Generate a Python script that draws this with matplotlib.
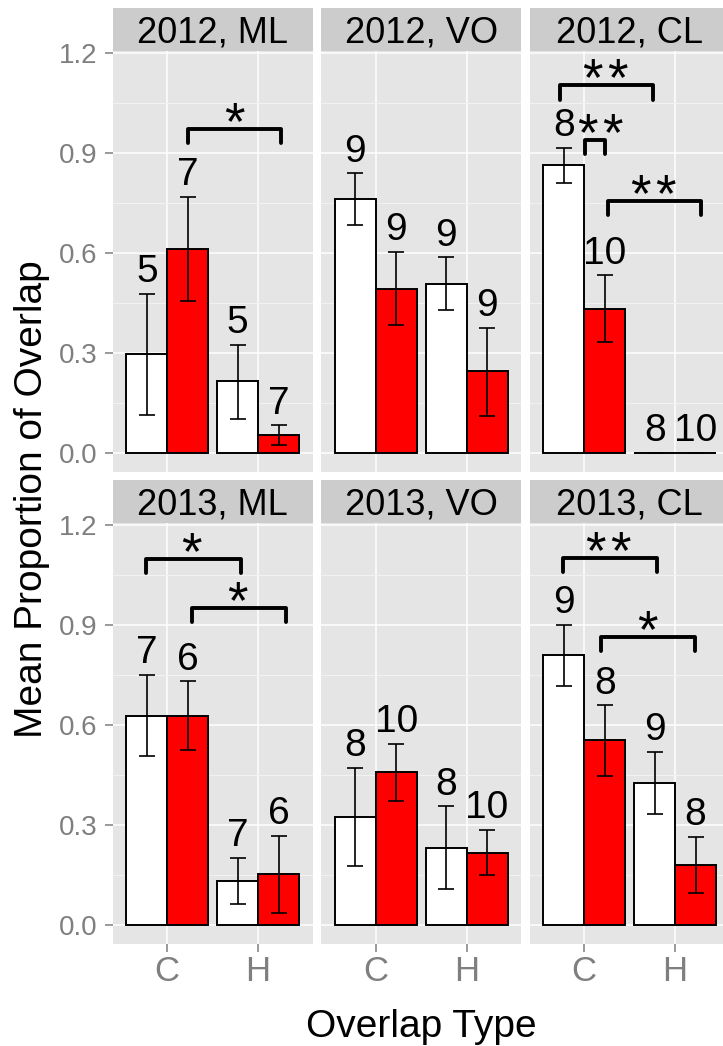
import matplotlib
matplotlib.use('Agg')
import matplotlib.pyplot as plt
import numpy as np

plt.rcParams['font.family'] = ['Liberation Sans', 'DejaVu Sans']

panels = ['2012, ML', '2012, VO', '2012, CL', '2013, ML', '2013, VO', '2013, CL']
types = ['C', 'H']

# white bars, values for [C, H] in each panel
white_mean = [[0.295, 0.214], [0.760, 0.507], [0.863, 0.0], [0.625, 0.131], [0.323, 0.231], [0.808, 0.425]]
white_lo = [[0.112, 0.102], [0.682, 0.428], [0.810, 0.0], [0.505, 0.061], [0.176, 0.108], [0.715, 0.331]]
white_hi = [[0.476, 0.324], [0.838, 0.586], [0.915, 0.0], [0.750, 0.200], [0.470, 0.355], [0.900, 0.518]]
white_n = [[5, 5], [9, 9], [8, 8], [7, 7], [8, 8], [9, 9]]

# red bars
red_mean = [[0.612, 0.052], [0.492, 0.244], [0.431, 0.0], [0.625, 0.151], [0.457, 0.216], [0.553, 0.178]]
red_lo = [[0.455, 0.022], [0.383, 0.111], [0.332, 0.0], [0.523, 0.035], [0.371, 0.148], [0.446, 0.095]]
red_hi = [[0.767, 0.082], [0.603, 0.374], [0.532, 0.0], [0.730, 0.266], [0.543, 0.285], [0.658, 0.263]]
red_n = [[7, 7], [9, 9], [10, 10], [6, 6], [10, 10], [8, 8]]

# significance brackets: panel, left x, right x, height, number of stars, label x
brackets = [
    (0, 1.23, 2.25, 0.971, 1, 1.74),
    (2, 0.733, 1.755, 1.102, 2, 1.23),
    (2, 1.004, 1.224, 0.938, 2, 1.17),
    (2, 1.26, 2.287, 0.755, 2, 1.76),
    (3, 0.769, 1.81, 1.098, 1, 1.27),
    (3, 1.267, 2.311, 0.951, 1, 1.77),
    (5, 0.763, 1.803, 1.101, 2, 1.26),
    (5, 1.187, 2.22, 0.863, 1, 1.69),
]

W, H = 723, 1046
fig = plt.figure(figsize=(W / 100, H / 100), dpi=100)

col_x0 = [112.7, 321.2, 529.7]
panel_w = 200
row_top = [50.7, 522.7]
panel_h = 421.4
strip_h = 42.4

bw = 0.45
x = np.arange(1, 3)

axes = []
for i, title in enumerate(panels):
    r, c = divmod(i, 3)
    ax = fig.add_axes([col_x0[c] / W, 1 - (row_top[r] + panel_h) / H, panel_w / W, panel_h / H])
    ax.set_facecolor('#E5E5E5')
    for s in ax.spines.values():
        s.set_visible(False)
    ax.set_xlim(0.4, 2.6)
    ax.set_ylim(-0.0578, 1.206)
    ax.set_yticks([0.0, 0.3, 0.6, 0.9, 1.2])
    ax.set_yticks([0.15, 0.45, 0.75, 1.05], minor=True)
    ax.set_xticks(x)
    ax.set_xticklabels(types)
    ax.grid(True, which='major', color='white', lw=1.1)
    ax.grid(True, which='minor', axis='y', color='#F2F2F2', lw=0.8)
    ax.set_axisbelow(True)
    ax.tick_params(which='minor', length=0)
    ax.tick_params(axis='y', length=6, width=1.1, color='#7F7F7F', labelcolor='#7F7F7F',
                   labelsize=20, pad=5)
    ax.tick_params(axis='x', length=6, width=1.1, color='#7F7F7F', labelcolor='#7F7F7F',
                   labelsize=25, pad=2)
    ax.yaxis.set_major_formatter(matplotlib.ticker.FormatStrFormatter('%.1f'))
    if c > 0:
        ax.tick_params(axis='y', length=0, labelleft=False)
    if r == 0:
        ax.tick_params(axis='x', length=0, labelbottom=False)

    ax.bar(x - bw / 2, white_mean[i], bw, color='white', edgecolor='black', lw=1.4, zorder=2)
    ax.bar(x + bw / 2, red_mean[i], bw, color='#FF0000', edgecolor='black', lw=1.4, zorder=2)
    for xs, m, lo, hi, n in [(x - bw / 2, white_mean[i], white_lo[i], white_hi[i], white_n[i]),
                             (x + bw / 2, red_mean[i], red_lo[i], red_hi[i], red_n[i])]:
        m = np.array(m)
        err = [m - np.array(lo), np.array(hi) - m]
        ax.errorbar(xs, m, yerr=err, fmt='none', ecolor='black', elinewidth=1.2,
                    capsize=5.8, capthick=1.2, zorder=3)
        for xx, top, nn in zip(xs, hi, n):
            ax.text(xx, top + 0.035, str(nn), ha='center', va='baseline', fontsize=28, zorder=4)

    # strip
    sax = fig.add_axes([col_x0[c] / W, 1 - row_top[r] / H, panel_w / W, strip_h / H])
    sax.set_facecolor('#CCCCCC')
    sax.set_xticks([])
    sax.set_yticks([])
    for s in sax.spines.values():
        s.set_visible(False)
    sax.text(0.5, 0.19, title, ha='center', va='baseline', fontsize=26, transform=sax.transAxes)
    axes.append(ax)

for p, x1, x2, yb, k, lx in brackets:
    ax = axes[p]
    ax.plot([x1, x1, x2, x2], [yb - 0.043, yb, yb, yb - 0.043], color='black', lw=2.8,
            solid_capstyle='round', solid_joinstyle='round', zorder=5)
    for j in range(k):
        ax.text(lx + (j - (k - 1) / 2) * 0.275, yb - 0.03, '*', ha='center', va='baseline',
                fontsize=38, zorder=5)

fig.text(42 / W, 1 - 499 / H, 'Mean Proportion of Overlap', rotation=90, rotation_mode='anchor',
         ha='center', va='baseline', fontsize=28)
fig.text(421 / W, 1 - 1037 / H, 'Overlap Type', ha='center', va='baseline', fontsize=28)

fig.savefig('out.png', dpi=100)
